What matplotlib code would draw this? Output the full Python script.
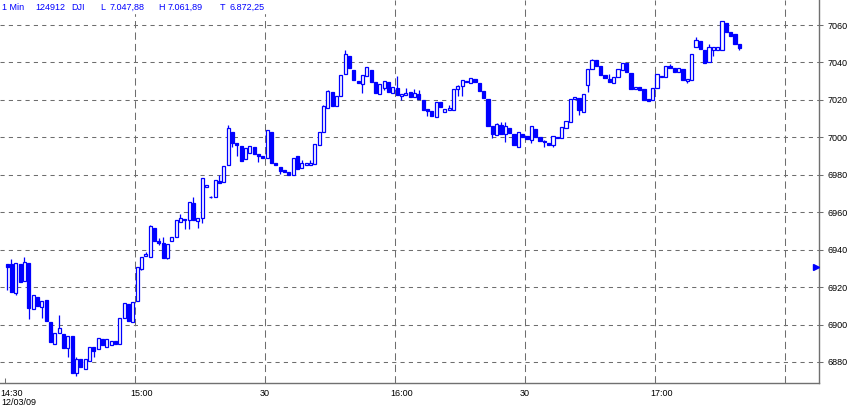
import matplotlib
matplotlib.use("Agg")
import matplotlib.pyplot as plt
from matplotlib.patches import Rectangle
from matplotlib.transforms import ScaledTranslation

plt.rcParams['font.family'] = ['Liberation Sans', 'DejaVu Sans']

# 1-minute DJI candles, 14:30 - 17:20, 12/03/09
opens = [6932.3, 6932.3, 6916.8, 6932.3, 6923.2, 6932.9, 6908.3, 6914.7, 6909.4, 6913.1,
         6901.3, 6889.6, 6895.5, 6894.9, 6887.5, 6893.9, 6874.1, 6881.6, 6876.2, 6880.5,
         6888.0, 6886.9, 6892.3, 6888.0, 6889.0, 6891.0, 6889.5, 6903.5, 6911.0, 6901.3,
         6912.6, 6929.7, 6936.6, 6936.1, 6951.6, 6944.6, 6943.5, 6935.5, 6944.6, 6946.8,
         6954.8, 6956.4, 6955.8, 6964.9, 6955.3, 6956.9, 6973.5, 6968.1, 6968.1, 6976.7,
         6976.1, 6985.2, 7002.9, 6997.0, 6995.4, 6988.4, 6991.6, 6994.8, 6991.1, 6990.0,
         6989.0, 7002.9, 6986.3, 6984.2, 6982.5, 6981.5, 6979.9, 6990.0, 6983.6, 6985.2,
         6985.2, 6985.8, 6995.9, 7002.9, 7015.7, 7024.2, 7016.7, 7022.1, 7033.8, 7043.4,
         7036.0, 7030.1, 7028.5, 7032.8, 7036.0, 7029.6, 7023.1, 7026.3, 7029.6, 7023.7,
         7026.3, 7022.1, 7022.6, 7024.2, 7021.5, 7023.1, 7019.9, 7015.1, 7014.1, 7010.9,
         7018.9, 7013.5, 7014.6, 7014.6, 7025.8, 7027.4, 7029.6, 7029.0, 7031.2, 7029.0,
         7024.7, 7020.5, 7006.1, 7001.2, 7006.6, 7001.8, 7005.0, 7001.8, 6994.8, 7001.8,
         7000.7, 6998.6, 7004.5, 7000.2, 6998.0, 6997.0, 6995.9, 7000.2, 6999.6, 7005.0,
         7008.2, 7020.5, 7021.0, 7013.5, 7027.9, 7036.5, 7041.3, 7038.1, 7033.3, 7031.2,
         7029.0, 7032.2, 7036.0, 7039.7, 7034.4, 7025.8, 7026.9, 7025.8, 7020.5, 7019.9,
         7026.3, 7032.2, 7032.2, 7038.1, 7037.0, 7034.9, 7036.5, 7030.1, 7030.6, 7048.2,
         7051.5, 7046.6, 7040.2, 7046.6, 7046.6, 7046.6, 7061.1, 7056.3, 7055.2, 7049.9]
highs = [6932.3, 6935.0, 6932.9, 6932.3, 6936.1, 6932.9, 6915.8, 6914.7, 6912.6, 6913.1,
         6901.3, 6895.5, 6905.1, 6894.9, 6893.9, 6893.9, 6882.6, 6881.6, 6881.6, 6888.0,
         6888.0, 6892.8, 6892.3, 6892.3, 6891.0, 6891.0, 6903.5, 6911.5, 6911.0, 6912.0,
         6930.7, 6936.1, 6938.8, 6953.0, 6951.6, 6946.0, 6946.8, 6943.0, 6946.8, 6955.8,
         6959.0, 6956.4, 6965.5, 6968.1, 6956.9, 6978.3, 6974.5, 6968.6, 6977.2, 6979.9,
         6984.7, 7006.6, 7002.9, 6997.0, 6995.4, 6994.3, 6995.4, 6994.8, 6991.1, 6990.0,
         7003.9, 7002.9, 6986.3, 6984.2, 6982.5, 6981.5, 6989.0, 6990.0, 6987.9, 6986.3,
         6987.9, 6996.4, 7002.9, 7017.2, 7025.3, 7024.2, 7022.1, 7033.3, 7046.6, 7043.4,
         7036.0, 7030.1, 7033.3, 7037.6, 7036.0, 7029.6, 7028.5, 7030.1, 7029.6, 7026.9,
         7032.8, 7023.1, 7026.3, 7024.2, 7025.8, 7025.3, 7019.9, 7015.1, 7014.1, 7018.9,
         7018.9, 7015.1, 7017.2, 7025.8, 7027.9, 7030.6, 7030.1, 7031.7, 7031.2, 7029.0,
         7024.7, 7020.5, 7006.1, 7007.6, 7008.2, 7008.2, 7005.0, 7001.8, 7002.9, 7001.8,
         7000.7, 7006.1, 7004.5, 7000.2, 6998.6, 6997.0, 7000.7, 7000.2, 7005.5, 7008.7,
         7020.5, 7021.5, 7021.0, 7023.1, 7036.5, 7041.8, 7041.3, 7038.1, 7033.3, 7033.8,
         7032.2, 7036.5, 7039.7, 7039.7, 7034.4, 7026.9, 7026.9, 7025.8, 7020.5, 7026.3,
         7033.8, 7032.8, 7038.1, 7039.0, 7037.0, 7037.0, 7036.5, 7031.2, 7044.5, 7053.6,
         7051.5, 7046.6, 7049.9, 7048.2, 7048.2, 7061.9, 7061.1, 7056.3, 7055.2, 7049.9]
lows = [6918.4, 6917.4, 6915.8, 6922.7, 6923.2, 6902.9, 6908.3, 6909.9, 6903.5, 6901.9,
        6890.7, 6889.6, 6895.5, 6887.5, 6882.6, 6874.1, 6872.3, 6877.3, 6876.2, 6880.5,
        6882.6, 6886.9, 6889.1, 6888.0, 6889.0, 6889.5, 6889.5, 6903.5, 6901.9, 6901.3,
        6912.6, 6929.0, 6936.6, 6936.1, 6944.6, 6942.5, 6935.5, 6935.0, 6944.6, 6946.8,
        6954.8, 6951.0, 6951.0, 6955.8, 6951.6, 6954.2, 6973.5, 6967.6, 6968.1, 6975.6,
        6976.1, 6985.2, 6994.8, 6990.0, 6987.4, 6988.4, 6991.6, 6991.1, 6986.8, 6989.0,
        6989.0, 6986.3, 6985.2, 6980.4, 6981.5, 6979.9, 6979.9, 6983.1, 6983.6, 6985.2,
        6985.2, 6985.8, 6995.9, 7002.9, 7015.7, 7016.7, 7016.7, 7022.1, 7033.8, 7037.0,
        7030.6, 7029.0, 7023.7, 7032.8, 7029.6, 7023.7, 7023.1, 7025.3, 7024.2, 7023.7,
        7022.6, 7019.9, 7022.6, 7021.5, 7021.5, 7020.5, 7014.6, 7011.4, 7011.4, 7010.9,
        7016.2, 7013.5, 7014.6, 7014.6, 7022.1, 7022.1, 7029.6, 7029.0, 7029.6, 7024.7,
        7021.0, 7006.1, 6999.6, 7001.2, 7001.8, 6997.5, 7002.3, 6995.9, 6994.8, 7000.2,
        6999.1, 6997.0, 7000.2, 6998.0, 6994.8, 6995.9, 6994.8, 6999.6, 6999.6, 7005.0,
        7008.2, 7020.5, 7011.9, 7013.5, 7024.0, 7036.5, 7038.1, 7033.3, 7031.7, 7029.6,
        7029.0, 7032.2, 7036.0, 7034.9, 7025.8, 7025.8, 7025.3, 7019.9, 7019.4, 7019.9,
        7026.3, 7032.2, 7032.2, 7037.0, 7034.9, 7034.9, 7030.6, 7029.0, 7030.6, 7048.2,
        7047.2, 7039.7, 7040.2, 7043.4, 7046.6, 7046.6, 7056.3, 7054.1, 7049.9, 7046.6]
closes = [6930.7, 6917.4, 6932.9, 6922.7, 6933.4, 6908.8, 6915.8, 6909.9, 6912.6, 6901.9,
          6890.7, 6895.5, 6898.1, 6887.5, 6893.9, 6874.1, 6881.6, 6877.3, 6881.6, 6888.0,
          6885.8, 6892.8, 6889.1, 6892.3, 6891.0, 6889.5, 6903.5, 6911.5, 6901.9, 6912.0,
          6930.7, 6936.1, 6937.7, 6952.6, 6944.6, 6943.5, 6935.5, 6943.0, 6946.8, 6955.8,
          6956.9, 6955.8, 6965.5, 6955.8, 6956.9, 6978.3, 6974.5, 6968.1, 6977.2, 6975.6,
          6984.7, 7005.0, 6997.0, 6995.9, 6987.4, 6994.3, 6995.4, 6991.1, 6990.0, 6989.0,
          7003.9, 6986.3, 6985.2, 6982.0, 6981.5, 6979.9, 6989.0, 6983.1, 6986.3, 6986.3,
          6986.3, 6996.4, 7002.9, 7016.7, 7024.7, 7016.7, 7022.1, 7033.3, 7044.5, 7037.0,
          7030.6, 7029.0, 7033.3, 7037.6, 7029.6, 7023.7, 7028.5, 7030.1, 7024.2, 7026.9,
          7022.6, 7023.1, 7023.7, 7021.5, 7023.7, 7020.5, 7014.6, 7014.1, 7011.4, 7018.9,
          7016.2, 7015.1, 7015.7, 7025.8, 7027.4, 7030.6, 7030.1, 7031.7, 7029.6, 7024.7,
          7021.0, 7006.1, 7001.8, 7007.1, 7001.8, 7006.1, 7002.3, 6995.9, 7002.9, 7000.2,
          6999.1, 7006.1, 7000.2, 6998.0, 6997.5, 6995.9, 7000.7, 6999.6, 7005.5, 7008.7,
          7020.5, 7021.5, 7014.6, 7023.1, 7036.5, 7041.3, 7038.1, 7033.3, 7031.7, 7029.6,
          7032.2, 7036.5, 7039.7, 7034.9, 7025.8, 7026.9, 7025.3, 7019.9, 7019.4, 7026.3,
          7033.8, 7032.8, 7038.1, 7037.0, 7034.9, 7037.0, 7030.6, 7031.2, 7044.5, 7052.0,
          7047.2, 7039.7, 7048.2, 7048.2, 7048.2, 7061.9, 7056.3, 7054.1, 7049.9, 7047.9]

time_ticks = [0, 30, 60, 90, 120, 150, 180]   # minutes after 14:30
time_labels = ['14:30', '15:00', '30', '16:00', '30', '17:00', '']
price_ticks = [6880, 6900, 6920, 6940, 6960, 6980, 7000, 7020, 7040, 7060]
prev_marker = 6930.7

blue = '#0000ff'
grid_col = '#6e6e6e'

fig = plt.figure(figsize=(8.5, 4.13), dpi=100)
ax = fig.add_axes([0, 30 / 413, 819 / 850, 383 / 413])

# grid
for p in price_ticks:
    ax.axhline(p, color=grid_col, lw=0.75, ls=(0, (4, 4)), zorder=0)
for t in time_ticks[1:]:
    ax.axvline(t, color=grid_col, lw=0.75, ls=(0, (7, 4)), zorder=0)

# candles
xs = [i + 0.5 for i in range(len(opens))]
ax.vlines(xs, lows, highs, color=blue, lw=0.9, zorder=2)
for x, o, c in zip(xs, opens, closes):
    face = 'white' if c > o else blue
    ax.bar(x, abs(c - o), bottom=min(o, c), width=0.75, color=face,
           edgecolor=blue, lw=0.9, zorder=3)

ax.plot([187.1], [prev_marker], marker='>', color=blue, ms=4, clip_on=False, zorder=5)

ax.set_xlim(-1.15, 187.86)
ax.set_ylim(6868.76, 7073.36)

for s in ['left', 'top']:
    ax.spines[s].set_visible(False)
for s in ['right', 'bottom']:
    ax.spines[s].set_color('#707070')
    ax.spines[s].set_linewidth(1)

ax.yaxis.tick_right()
ax.set_yticks(price_ticks)
ax.set_yticklabels([str(p) for p in price_ticks])
ax.tick_params(axis='y', direction='out', length=3, width=0.75, color=grid_col,
               pad=3, labelsize=6.5)
ax.set_xticks(time_ticks)
ax.set_xticklabels(time_labels)
ax.tick_params(axis='x', direction='in', length=3.5, width=0.75, color='#707070',
               pad=4, labelsize=6.5)
shift = ScaledTranslation(-5 / 100, 0, fig.dpi_scale_trans)
for lab in ax.get_xticklabels():
    lab.set_ha('left')
    lab.set_transform(lab.get_transform() + shift)

fig.text(1 / 850, 1 - 398 / 413, '12/03/09', fontsize=6.5, va='top', ha='left')

# header
fig.patches.append(Rectangle((0, 1 - 13 / 413), 272 / 850, 13 / 413,
                             transform=fig.transFigure, color='white', zorder=1))
header = [(2, '1 Min'), (35, '124912'), (71, 'DJI'), (100, 'L'), (110, '7.047,88'),
          (158, 'H'), (168, '7.061,89'), (220, 'T'), (230, '6.872,25')]
for px, txt in header:
    fig.text(px / 850, 1 - 7 / 413, txt, fontsize=6.5, color=blue, va='center',
             ha='left', zorder=2)

fig.savefig('out.png', dpi=100)
